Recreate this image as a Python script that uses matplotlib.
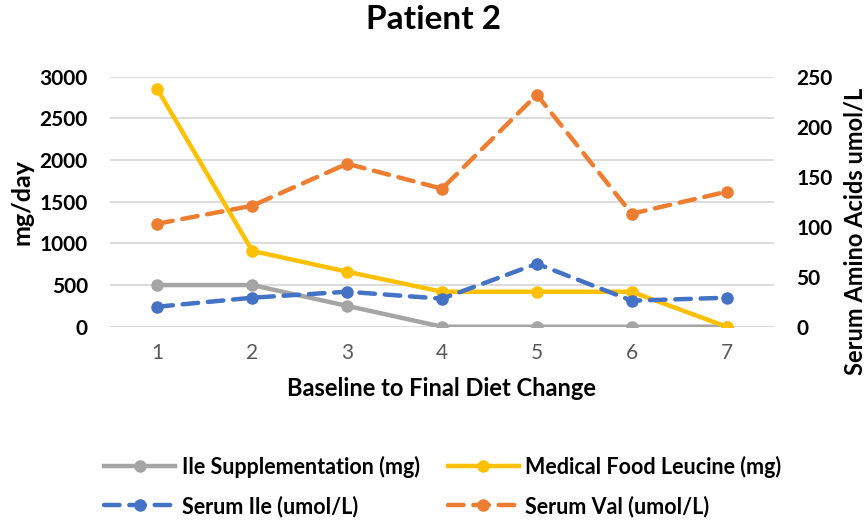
import matplotlib.pyplot as plt

plt.rcParams['font.family'] = ['Lato', 'DejaVu Sans']

steps = [1, 2, 3, 4, 5, 6, 7]
ile_supp = [500, 500, 250, 0, 0, 0, 0]
med_food_leu = [2850, 910, 660, 420, 420, 420, 0]
serum_ile = [20, 29, 35, 28, 63, 26, 29]
serum_val = [103, 121, 163, 138, 232, 113, 135]

c_gray = '#A5A5A5'
c_yellow = '#FFC000'
c_blue = '#4472C4'
c_orange = '#ED7D31'

fig = plt.figure(figsize=(8.68, 5.23), dpi=100)
ax = fig.add_axes([0.1267, 0.3753, 0.765, 0.478])
ax2 = ax.twinx()

lw = 3.2
ms = 8
dash = (3.5, 2.2)

l1, = ax.plot(steps, ile_supp, color=c_gray, lw=lw, marker='o', ms=ms, zorder=3)
l2, = ax.plot(steps, med_food_leu, color=c_yellow, lw=lw, marker='o', ms=ms, zorder=4)
l3, = ax2.plot(steps, serum_ile, color=c_blue, lw=lw, marker='o', ms=ms,
               linestyle=(0, dash), dash_capstyle='round', zorder=3)
l4, = ax2.plot(steps, serum_val, color=c_orange, lw=lw, marker='o', ms=ms,
               linestyle=(0, dash), dash_capstyle='round', zorder=3)

ax.set_xlim(0.5, 7.5)
ax.set_ylim(0, 3000)
ax2.set_ylim(0, 250)
ax.set_yticks(range(0, 3001, 500))
ax2.set_yticks(range(0, 251, 50))
ax.set_xticks(steps)

ax.yaxis.grid(True, color='#D9D9D9', lw=1.3)
ax.set_axisbelow(True)
for a in (ax, ax2):
    for s in a.spines.values():
        s.set_visible(False)
    a.tick_params(length=0)

ax.tick_params(axis='y', labelsize=15, pad=16)
ax2.tick_params(axis='y', labelsize=15, pad=16)
for t in ax.get_yticklabels() + ax2.get_yticklabels():
    t.set_fontweight('bold')
ax.tick_params(axis='x', labelsize=15, colors='#595959', pad=12)

ax.set_ylabel('mg/day', fontsize=18, fontweight='bold', labelpad=4)
ax2.set_ylabel('Serum Amino Acids umol/L', fontsize=17, fontweight='bold',
               rotation=90, va='center', ha='center')
ax2.yaxis.set_label_coords(1.122, 0.383)
ax.set_xlabel('Baseline to Final Diet Change', fontsize=17, fontweight='bold', labelpad=10)
fig.suptitle('Patient 2', fontsize=24, fontweight='bold', y=0.99)

handles = [l1, l3, l2, l4]
labels = ['Ile Supplementation (mg)', 'Serum Ile (umol/L)',
          'Medical Food Leucine (mg)', 'Serum Val (umol/L)']
fig.legend(handles, labels, ncol=2, loc='center', bbox_to_anchor=(0.51, 0.07),
           frameon=False, prop={'size': 15.5, 'weight': 'bold'},
           handlelength=3.3, columnspacing=1.3, labelspacing=0.8, handletextpad=0.3)

fig.savefig('out.png', dpi=100)
